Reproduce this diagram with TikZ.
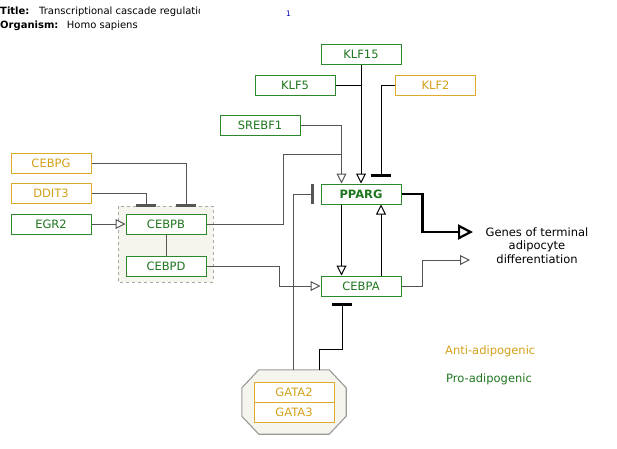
\documentclass[tikz,border=0pt]{standalone}
\usepackage{fontspec}
\setmainfont{DejaVu Sans}
\usetikzlibrary{arrows.meta,calc}
\definecolor{pgreen}{RGB}{30,118,30}
\definecolor{bgreen}{RGB}{45,135,45}
\definecolor{pgold}{RGB}{212,160,23}
\definecolor{bgold}{RGB}{220,170,45}
\definecolor{grpfill}{RGB}{245,245,237}
\definecolor{lgray}{RGB}{85,85,85}
\tikzset{
  gene/.style={draw=bgreen, line width=1pt, fill=white, text=pgreen, minimum width=80pt, minimum height=20pt, inner sep=0pt, font=\fontsize{11.5}{13}\selectfont},
  goldgene/.style={gene, draw=bgold, line width=1pt, text=pgold},
  link/.style={line width=1pt, draw=black},
  glink/.style={link, draw=lgray},
  act/.style={link, -{Triangle[open, fill=white, length=10pt, width=10pt]}},
  gact/.style={act, draw=lgray},
  inh/.style={link, shorten >=6.5pt, -{Bar[width=20pt, line width=2.6pt]}},
  ginh/.style={inh, draw=lgray},
  bigact/.style={line width=2.2pt, -{Triangle[open, fill=white, length=15pt, width=15pt]}},
  lbl/.style={font=\fontsize{11.5}{13.3}\selectfont, inner sep=0pt},
  ttl/.style={font=\fontsize{10}{12}\selectfont, inner sep=0pt, anchor=base west}
}
\begin{document}
\begin{tikzpicture}[x=1pt, y=-1pt]
\useasboundingbox (0,0) rectangle (617,448);
% title
\node[ttl] (t1) at (0,14) {\textbf{Title:}};
\begin{scope}
\clip (35,0) rectangle (199.5,20);
\node[ttl] (t2) at (39,14) {Transcriptional cascade regulation};
\end{scope}
\node[ttl] (o1) at (0,28) {\textbf{Organism:}};
\node[ttl] (o2) at (66.7,28) {Homo sapiens};
\node[inner sep=0pt, text=blue!70!black, font=\fontsize{7.5}{8}\selectfont] (num) at (288.5,13.5) {1};

% group box
\draw[draw=gray!70, dashed, fill=grpfill, line width=1pt] (118,206) rectangle (213,282);
% GATA octagon
\node[minimum width=104pt, minimum height=64pt, inner sep=0pt] (gata) at (294,402) {};
\draw[draw=gray!80, fill=grpfill, line width=1.1pt]
  ($(gata.north west)+(17,0)$) -- ($(gata.north east)+(-17,0)$) -- ($(gata.north east)+(0,18)$)
  -- ($(gata.south east)+(0,-18)$) -- ($(gata.south east)+(-17,0)$) -- ($(gata.south west)+(17,0)$)
  -- ($(gata.south west)+(0,-18)$) -- ($(gata.north west)+(0,18)$) -- cycle;

% nodes
\node[gene] (klf15) at (361,54.5) {KLF15};
\node[gene] (klf5) at (295,85) {KLF5};
\node[goldgene] (klf2) at (435.5,85) {KLF2};
\node[gene] (srebf1) at (260,125.5) {SREBF1};
\node[goldgene] (cebpg) at (51,163) {CEBPG};
\node[goldgene] (ddit3) at (51,193) {DDIT3};
\node[gene] (egr2) at (51,224) {EGR2};
\node[gene] (cebpb) at (166,224) {CEBPB};
\node[gene] (cebpd) at (166,266) {CEBPD};
\node[gene, font=\fontsize{11.5}{13}\selectfont\bfseries] (pparg) at (361,194) {PPARG};
\node[gene] (cebpa) at (361,286) {CEBPA};
\node[goldgene] (gata2) at (294,392) {GATA2};
\node[goldgene] (gata3) at (294,412) {GATA3};
\node[lbl, align=center] (genes) at (537,245.5) {Genes of terminal\\adipocyte\\differentiation};
\node[lbl, anchor=west, text=pgold] (anti) at (445,351) {Anti-adipogenic};
\node[lbl, anchor=west, text=pgreen] (pro) at (446,379) {Pro-adipogenic};

\coordinate (j1) at (341.5,154);
\coordinate (gin1) at (473,232);
\coordinate (gin2) at (470,260);
\coordinate (gt1) at ($(gata.north)+(-1,0)$);
\coordinate (gt2) at ($(gata.north)+(25.5,0)$);

% connectors
\draw[act] (klf15.south) -- (pparg.north);
\draw[link] (klf5.east) -- (klf5.east -| klf15.south);
\draw[inh] (klf2.west) -| ($(pparg.north)+(20,0)$);
\draw[gact] (srebf1.east) -| ($(pparg.north)+(-19.5,0)$);
\draw[glink] (cebpb.east) -- (283,224) |- (j1);
\draw[act] ($(pparg.south)+(-19.5,0)$) -- ($(cebpa.north)+(-19.5,0)$);
\draw[act] ($(cebpa.north)+(20,0)$) -- ($(pparg.south)+(20,0)$);
\draw[bigact] (pparg.east) -- ++(21,0) |- (gin1);
\draw[gact] (cebpa.east) -- ++(21,0) |- (gin2);
\draw[gact] (cebpd.east) -- (279,266) |- (cebpa.west);
\draw[gact] (egr2.east) -- (cebpb.west);
\draw[ginh] (cebpg.east) -| ($(cebpb.north)+(20,0)$);
\draw[ginh] (ddit3.east) -| ($(cebpb.north)+(-20,0)$);
\draw[glink] (cebpb.south) -- (cebpd.north);
\draw[ginh] (gt1) |- (pparg.west);
\draw[inh] (gt2) -- ++(0,-20) -| ($(cebpa.south)+(-19,0)$);
\end{tikzpicture}
\end{document}
